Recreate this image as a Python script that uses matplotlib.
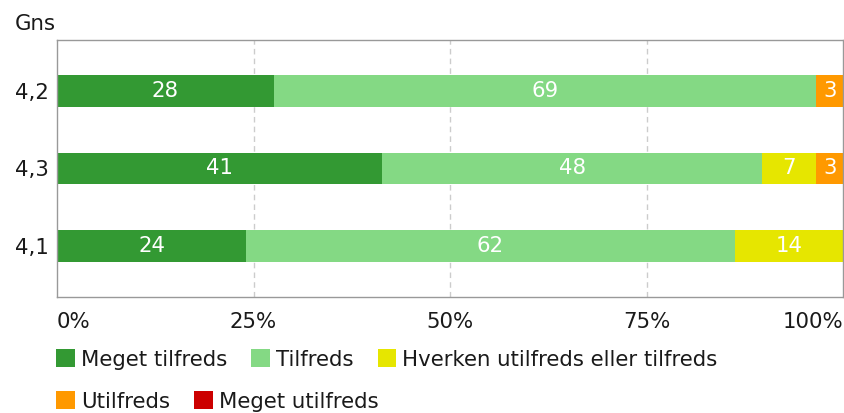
import numpy as np
import matplotlib
matplotlib.use('Agg')
import matplotlib.pyplot as plt

# shares per row (percent)
rows = ["4,2", "4,3", "4,1"]
categories = ["Meget tilfreds", "Tilfreds", "Hverken utilfreds eller tilfreds",
              "Utilfreds", "Meget utilfreds"]
meget_tilfreds = [27.6, 41.4, 24.1]
tilfreds = [69.0, 48.3, 62.1]
hverken = [0.0, 6.9, 13.8]
utilfreds = [3.4, 3.4, 0.0]
meget_utilfreds = [0.0, 0.0, 0.0]
colors = ["#339933", "#84d984", "#e6e600", "#ff9900", "#cc0000"]

series = [meget_tilfreds, tilfreds, hverken, utilfreds, meget_utilfreds]
fs = 15.3
txt = "#1a1a1a"

fig = plt.figure(figsize=(8.45, 4.13), dpi=100)
ax = fig.add_axes([57 / 845, 1 - 297 / 413, 786 / 845, 257 / 413])

y = np.arange(len(rows))
left = np.zeros(len(rows))
handles = []
for vals, col, name in zip(series, colors, categories):
    vals = np.array(vals)
    h = ax.barh(y, vals, left=left, height=0.41, color=col, label=name)
    handles.append(h)
    for yi, (l, v) in enumerate(zip(left, vals)):
        if v > 0:
            ax.text(l + v / 2, yi, f"{round(v):d}", ha="center", va="center",
                    color="white", fontsize=fs)
    left += vals

ax.set_xlim(0, 100)
ax.set_ylim(2.658, -0.658)
ax.set_yticks(y)
ax.set_yticklabels(rows, fontsize=fs)
ax.set_xticks([0, 25, 50, 75, 100])
xl = ax.set_xticklabels(["0%", "25%", "50%", "75%", "100%"], fontsize=fs)
xl[0].set_ha("left")
xl[-1].set_ha("right")
ax.tick_params(axis="both", length=0, colors=txt)
ax.tick_params(axis="x", pad=10.5)
ax.tick_params(axis="y", pad=5.5)
for x in [25, 50, 75]:
    ax.axvline(x, color="#cccccc", linewidth=1, linestyle=(0, (4, 3)), zorder=0)
for sp in ax.spines.values():
    sp.set_color("#999999")
    sp.set_linewidth(1)

fig.text(15 / 845, 1 - 30 / 413, "Gns", fontsize=fs, va="baseline", ha="left",
         color=txt)

leg_kw = dict(frameon=False, fontsize=fs, handlelength=0.89, handleheight=0.89,
              handletextpad=0.28, columnspacing=1.13, borderaxespad=0, borderpad=0,
              labelcolor=txt)
leg1 = fig.legend(handles[:3], categories[:3], ncol=3, loc="center left",
                  bbox_to_anchor=(56 / 845, 1 - 359.5 / 413), **leg_kw)
leg2 = fig.legend(handles[3:], categories[3:], ncol=2, loc="center left",
                  bbox_to_anchor=(56 / 845, 1 - 401.5 / 413), **leg_kw)

fig.savefig("out.png", dpi=100)
